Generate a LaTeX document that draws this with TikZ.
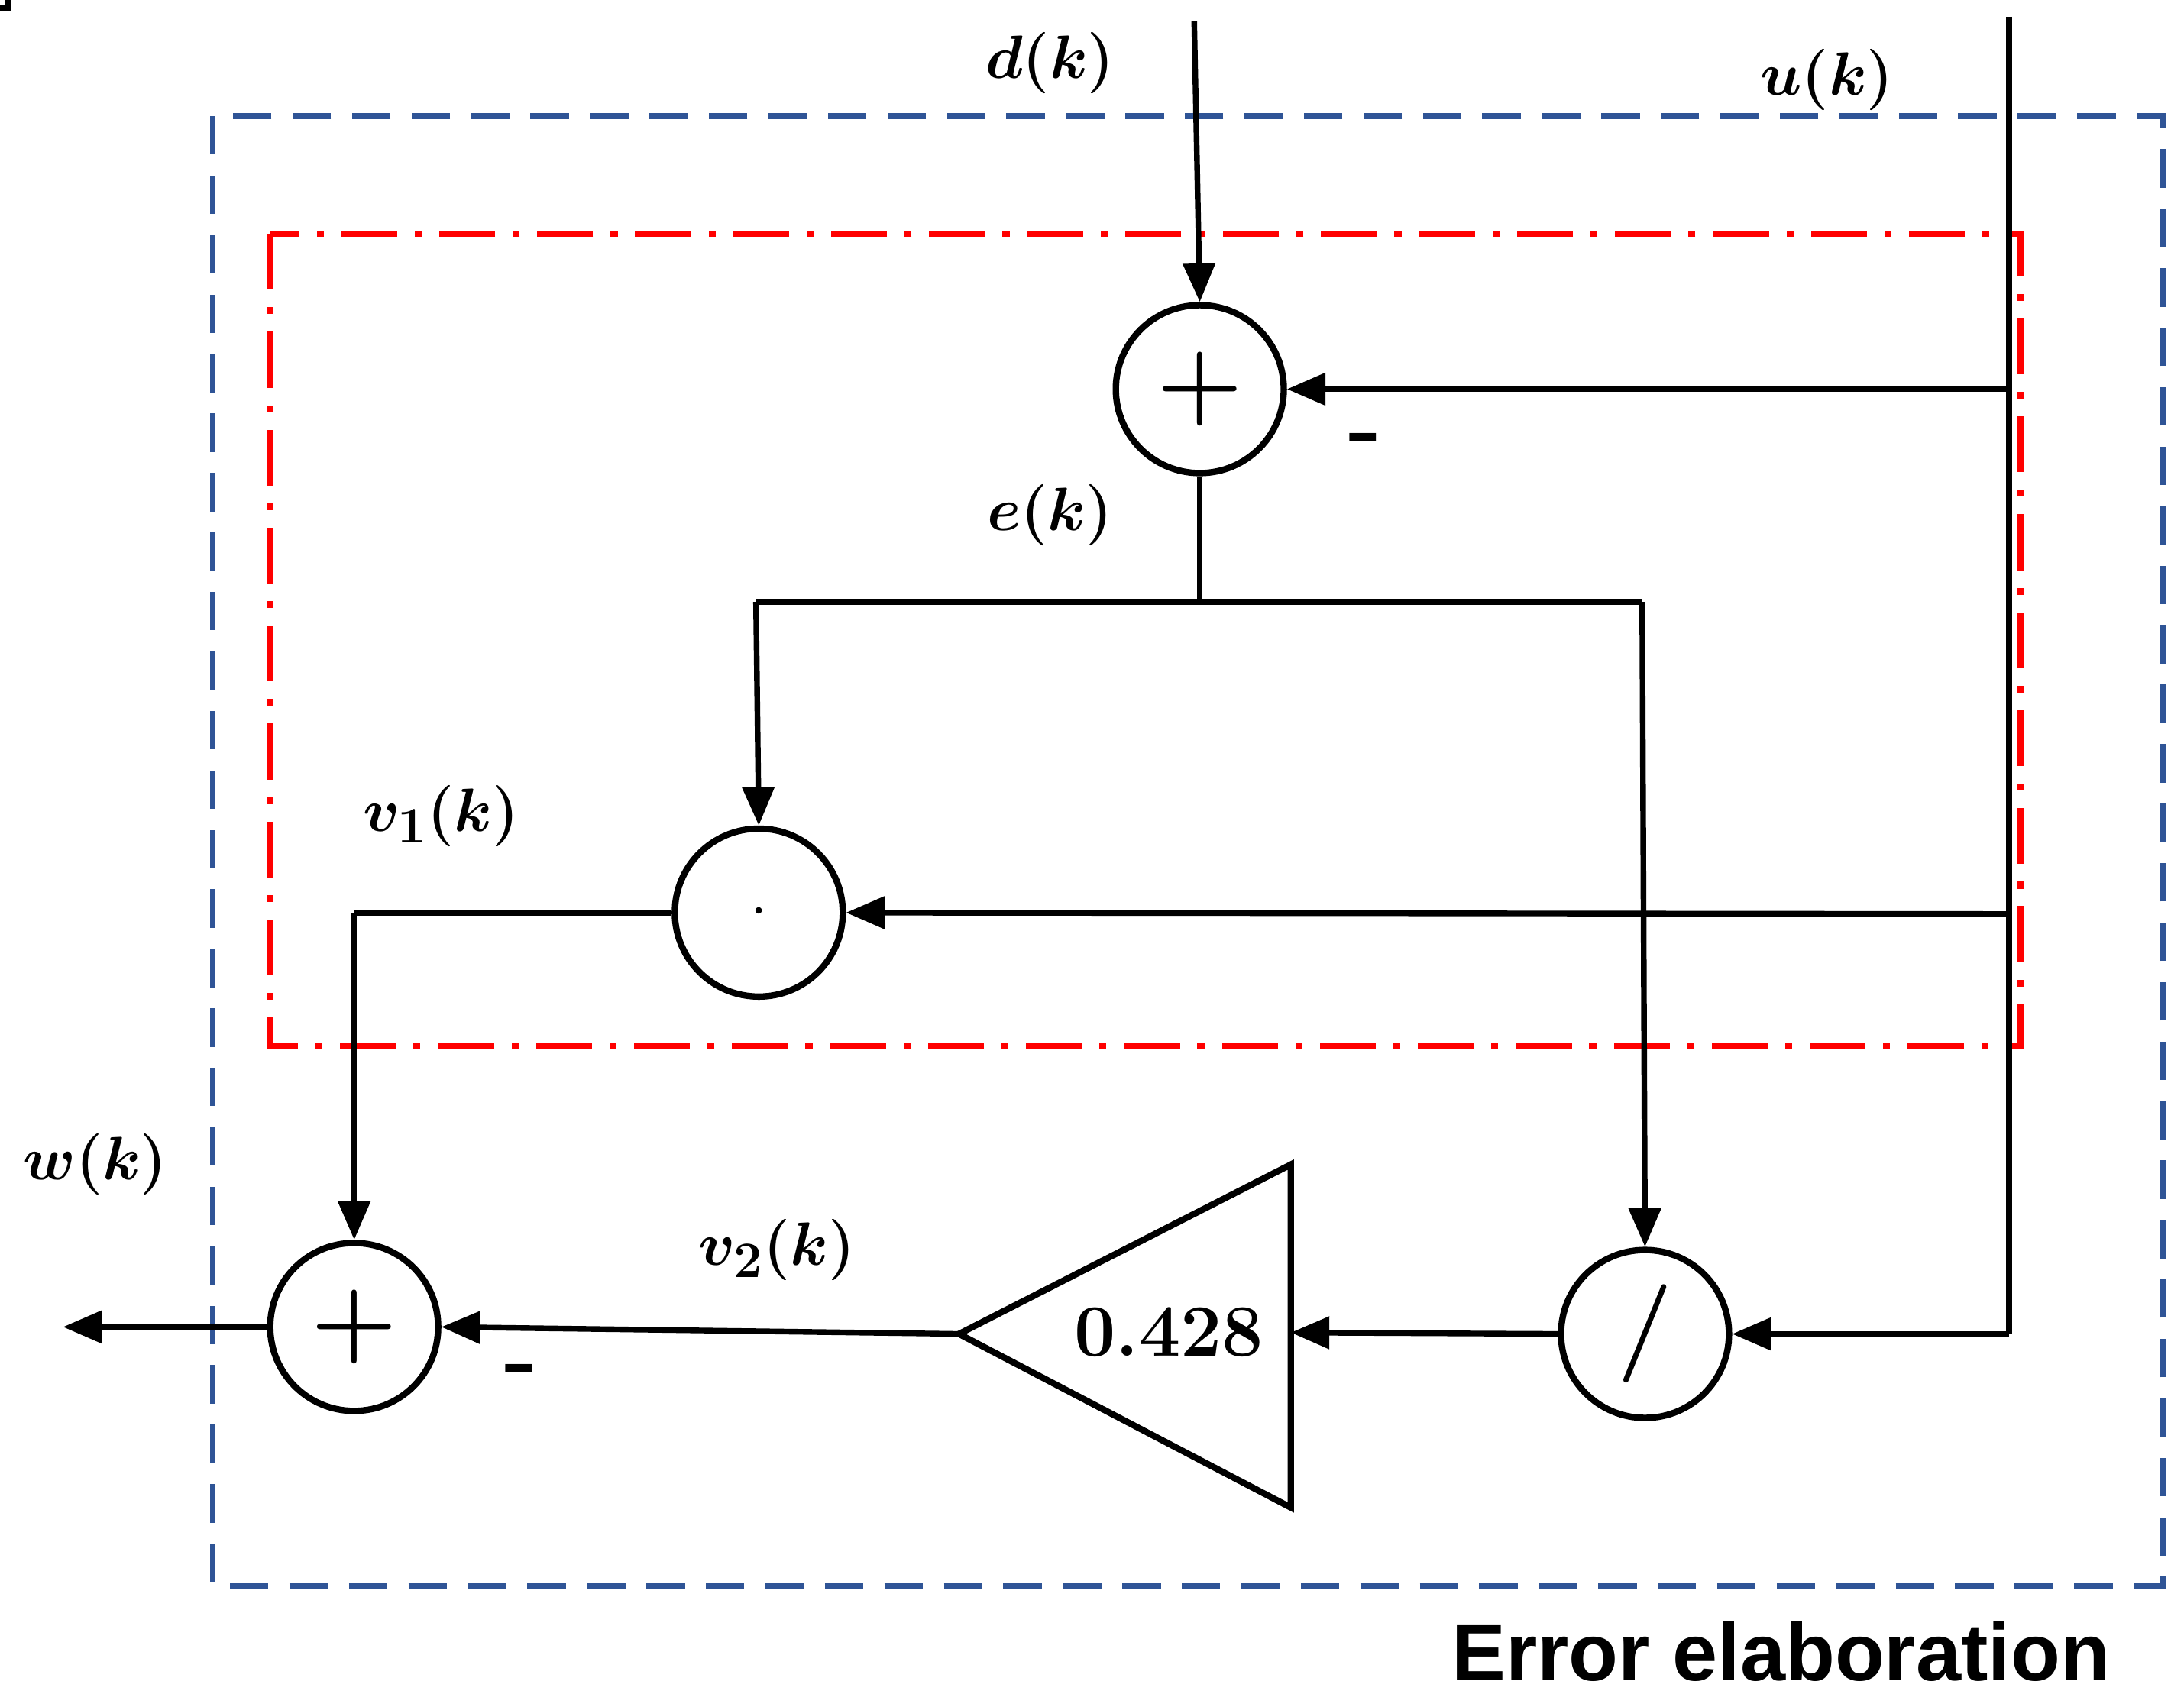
\documentclass[tikz,border=0pt]{standalone}
\usepackage{amsmath,bm}
\usepackage{fontspec}
\newfontfamily\arialb{Liberation Sans}
\usetikzlibrary{arrows.meta}
\begin{document}
\begin{tikzpicture}[x=0.02cm,y=-0.02cm,
  ln/.style={line width=2.3pt},
  ar/.style={ln,-{Triangle[length=0.55cm,width=0.45cm]}},
  op/.style={circle,draw,line width=2.6pt,minimum size=2.4cm,inner sep=0pt,font=\fontsize{40}{40}\selectfont\bfseries},
  lab/.style={font=\fontsize{30}{36}\selectfont},
  mn/.style={font=\fontsize{36}{36}\selectfont\bfseries}]
\definecolor{bl}{RGB}{47,84,150}
\useasboundingbox (0,0) rectangle (1560,1219);
\draw[bl,line width=2.3pt,dash pattern=on 0.55cm off 0.3cm] (152,83) rectangle (1545,1133);
\draw[red,line width=2.6pt,dash pattern=on 0.8cm off 0.25cm on 0.1cm off 0.25cm] (193,167) rectangle (1443,747);
\node[op] (s1) at (857,278) {+};
\node[op] (m) at (542,652) {$\cdot$};
\node[op] (dv) at (1175,953) {/};
\node[op] (s2) at (253,948) {+};
\node[draw,line width=2.6pt,minimum size=1pt] (tri) at (0,0) {};
\path (922,832) coordinate (t1) (922,1077) coordinate (t2) (685,953) coordinate (tip) (922,952) coordinate (tr);
\draw[line width=2.6pt] (t1) -- (t2) -- (tip) -- cycle;
\node[font=\fontsize{30}{36}\selectfont\bfseries] (g) at (835,952) {0.428};
\coordinate (din) at (853,15);
\coordinate (ut) at (1435,12);
\coordinate (ub) at (1435,953);
\coordinate (eb) at (857,430);
\coordinate (el) at (540,430);
\coordinate (er) at (1173,430);
\coordinate (vc) at (253,652);
\coordinate (wo) at (45,948);
\draw[ln] (ut) -- (ub);
\draw[ar] (din) -- (s1.north);
\draw[ar] (1435,278) -- (s1.east);
\draw[ln] (s1.south) -- (eb);
\draw[ln] (el) -- (er);
\draw[ar] (el) -- (m.north);
\draw[ar] (er) -- (dv.north);
\draw[ar] (1435,653) -- (m.east);
\draw[ar] (ub) -- (dv.east);
\draw[ar] (dv.west) -- (tr);
\draw[ar] (tip) -- (s2.east);
\draw[ln] (m.west) -- (vc);
\draw[ar] (vc) -- (s2.north);
\draw[ar] (s2.west) -- (wo);
\node[lab] (ld) at (750,45) {$\bm{d(k)}$};
\node[lab] (lu) at (1305,57) {$\bm{u(k)}$};
\node[lab] (le) at (750,368) {$\bm{e(k)}$};
\node[lab] (lv1) at (315,583) {$\bm{v_1(k)}$};
\node[lab] (lv2) at (555,893) {$\bm{v_2(k)}$};
\node[lab] (lw) at (68,832) {$\bm{w(k)}$};
\node[mn] (n1) at (975,318) {-};
\node[mn] (n2) at (372,983) {-};
\node[font=\fontsize{33}{36}\selectfont\arialb\bfseries] (ee) at (1272,1180) {Error elaboration};
\end{tikzpicture}
\end{document}
